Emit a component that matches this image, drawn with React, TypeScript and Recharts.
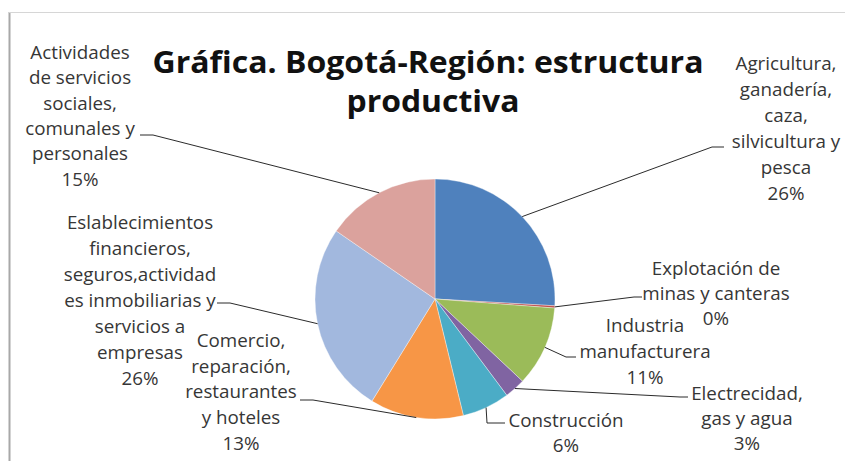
import React from 'react';
import { PieChart, Pie, Cell } from 'recharts';

const categories = [
  'Agricultura, ganadería, caza, silvicultura y pesca',
  'Explotación de minas y canteras',
  'Industria manufacturera',
  'Electrecidad, gas y agua',
  'Construcción',
  'Comercio, reparación, restaurantes y hoteles',
  'Eslablecimientos financieros, seguros,actividades inmobiliarias y servicios a empresas',
  'Actividades de servicios sociales, comunales y personales',
];
const values = [25.9, 0.3, 10.8, 2.8, 6.4, 12.6, 25.8, 15.4];
const labelLines = [
  ['Agricultura,', 'ganadería,', 'caza,', 'silvicultura y', 'pesca'],
  ['Explotación de', 'minas y canteras'],
  ['Industria', 'manufacturera'],
  ['Electrecidad,', 'gas y agua'],
  ['Construcción'],
  ['Comercio,', 'reparación,', 'restaurantes', 'y hoteles'],
  ['Eslablecimientos', 'financieros,', 'seguros,actividad', 'es inmobiliarias y', 'servicios a', 'empresas'],
  ['Actividades', 'de servicios', 'sociales,', 'comunales y', 'personales'],
];
const colors = ['#4F81BD', '#C0504D', '#9BBB59', '#8064A2', '#4BACC6', '#F79646', '#A2B8DE', '#DBA29D'];
const titleLines = ['Gráfica. Bogotá-Región: estructura', 'productiva'];

// label layout (text centre x, first line centre y, line height, leader joint, tail x)
const labelLayout = [
  { x: 786, y: 63, lh: 26, jx: 712, jy: 147, tx: 724 },
  { x: 716, y: 268, lh: 25, jx: 634, jy: 297, tx: 642 },
  { x: 645, y: 325, lh: 26, jx: 566, jy: 357, tx: 576 },
  { x: 747, y: 393, lh: 25, jx: 680, jy: 397, tx: 688 },
  { x: 566, y: 420, lh: 25, jx: 487, jy: 423, tx: 505 },
  { x: 241, y: 340, lh: 25.7, jx: 313, jy: 400, tx: 300 },
  { x: 140, y: 222, lh: 26, jx: 230, jy: 303, tx: 217 },
  { x: 80, y: 52, lh: 25.3, jx: 153, jy: 135, tx: 140 },
];

const data = categories.map((name, i) => ({ name, value: values[i] }));
const total = values.reduce((a, b) => a + b, 0);
const RAD = Math.PI / 180;
const FONT = '"Open Sans", sans-serif';

const renderLabel = (props: any) => {
  const { cx, cy, midAngle, outerRadius, index, value } = props;
  const L = labelLayout[index];
  const ex = cx + outerRadius * Math.cos(-midAngle * RAD);
  const ey = cy + outerRadius * Math.sin(-midAngle * RAD);
  const lines = [...labelLines[index], `${Math.round((value / total) * 100)}%`];
  return (
    <g key={`lbl-${index}`}>
      <polyline
        points={`${ex},${ey} ${L.jx},${L.jy} ${L.tx},${L.jy}`}
        fill="none"
        stroke="#2b2b2b"
        strokeWidth={1}
      />
      {lines.map((t, k) => (
        <text
          key={k}
          x={L.x}
          y={L.y + k * L.lh}
          textAnchor="middle"
          dominantBaseline="central"
          fontFamily={FONT}
          fontSize={18.8}
          fill="#363636"
        >
          {t}
        </text>
      ))}
    </g>
  );
};

export default function App() {
  return (
    <div style={{ position: 'absolute', left: 0, top: 0, width: 845, height: 461, background: '#fff' }}>
      <PieChart width={845} height={461} margin={{ top: 0, right: 0, bottom: 0, left: 0 }}>
        <line x1={9.5} y1={12} x2={9.5} y2={461} stroke="#a8a8a8" strokeWidth={2} />
        <line x1={9} y1={12.5} x2={845} y2={12.5} stroke="#d6d6d6" strokeWidth={1} />
        <text x={428} y={73} textAnchor="middle" fontFamily={FONT} fontWeight={700} fontSize={31}
          textLength={551} lengthAdjust="spacingAndGlyphs" fill="#111">
          {titleLines[0]}
        </text>
        <text x={433} y={112} textAnchor="middle" fontFamily={FONT} fontWeight={700} fontSize={31}
          textLength={173} lengthAdjust="spacingAndGlyphs" fill="#111">
          {titleLines[1]}
        </text>
        <Pie
          data={data}
          dataKey="value"
          nameKey="name"
          cx={435}
          cy={299}
          outerRadius={120}
          startAngle={90}
          endAngle={-270}
          stroke="rgba(255,255,255,0.6)"
          strokeWidth={0.6}
          label={renderLabel}
          labelLine={false}
          isAnimationActive={false}
        >
          {data.map((d, i) => (
            <Cell key={d.name} fill={colors[i]} />
          ))}
        </Pie>
      </PieChart>
    </div>
  );
}
